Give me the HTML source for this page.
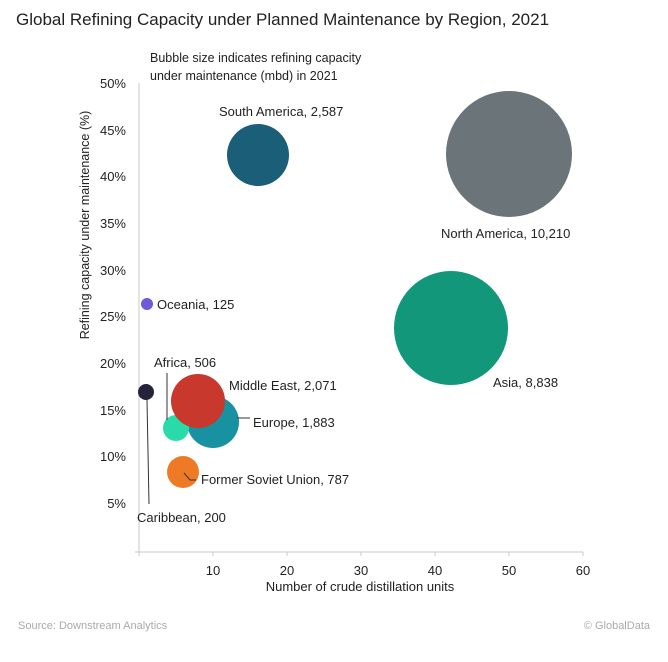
<!DOCTYPE html>
<html><head><meta charset="utf-8"><style>
body{margin:0;background:#fff;}
svg text{font-family:"Liberation Sans",sans-serif;fill:#222;}
</style></head><body>
<svg width="668" height="657" xmlns="http://www.w3.org/2000/svg">
<text x="16" y="25" font-size="17" fill="#111">Global Refining Capacity under Planned Maintenance by Region, 2021</text>
<text x="150" y="62" font-size="12.5">Bubble size indicates refining capacity</text>
<text x="150" y="80" font-size="12.5">under maintenance (mbd) in 2021</text>
<g stroke="#c8c8c8" stroke-width="1">
<line x1="139" y1="83" x2="139" y2="552"/>
<line x1="135" y1="552" x2="583" y2="552"/>
<line x1="139" y1="552" x2="139" y2="556"/><line x1="213" y1="552" x2="213" y2="556"/><line x1="287" y1="552" x2="287" y2="556"/><line x1="361" y1="552" x2="361" y2="556"/><line x1="435" y1="552" x2="435" y2="556"/><line x1="509" y1="552" x2="509" y2="556"/><line x1="583" y1="552" x2="583" y2="556"/>
</g>
<g font-size="13" text-anchor="end">
<text x="126" y="88">50%</text><text x="126" y="135">45%</text><text x="126" y="181">40%</text><text x="126" y="228">35%</text><text x="126" y="275">30%</text><text x="126" y="321">25%</text><text x="126" y="368">20%</text><text x="126" y="415">15%</text><text x="126" y="461">10%</text><text x="126" y="508">5%</text>
</g>
<g font-size="13" text-anchor="middle">
<text x="213" y="575">10</text><text x="287" y="575">20</text><text x="361" y="575">30</text><text x="435" y="575">40</text><text x="509" y="575">50</text><text x="583" y="575">60</text>
<text x="360" y="591">Number of crude distillation units</text>
</g>
<text transform="translate(89,225) rotate(-90)" font-size="12.5" text-anchor="middle">Refining capacity under maintenance (%)</text>
<circle cx="509" cy="154" r="63" fill="#6b7478"/>
<circle cx="451" cy="328" r="57" fill="#13977b"/>
<circle cx="258" cy="155" r="31" fill="#1b5e78"/>
<circle cx="147" cy="304" r="6" fill="#6b5bd6"/>
<circle cx="213" cy="422" r="26" fill="#1892a0"/>
<circle cx="176" cy="428" r="13" fill="#2adbaa"/>
<circle cx="198" cy="401" r="27" fill="#c8382c"/>
<circle cx="183" cy="472" r="16" fill="#ef7a26"/>
<circle cx="146" cy="392" r="8" fill="#25233a"/>
<g stroke="#333" stroke-width="1" fill="none">
<line x1="147" y1="400" x2="149" y2="504"/>
<line x1="167" y1="373" x2="167" y2="420"/>
<polyline points="237,418 250,418"/>
<polyline points="184,473 190,480 196,480"/>
</g>
<g font-size="13">
<text x="219" y="116">South America,  2,587</text>
<text x="441" y="238">North America,  10,210</text>
<text x="157" y="309">Oceania,  125</text>
<text x="493" y="387">Asia,  8,838</text>
<text x="154" y="367">Africa,  506</text>
<text x="229" y="390">Middle East,  2,071</text>
<text x="253" y="427">Europe,  1,883</text>
<text x="201" y="484">Former Soviet Union,  787</text>
<text x="137" y="522">Caribbean,  200</text>
</g>
<text x="18" y="629" font-size="11" fill="#aaa" style="fill:#aaa">Source: Downstream Analytics</text>
<text x="650" y="629" font-size="11" text-anchor="end" style="fill:#aaa">© GlobalData</text>
</svg>
</body></html>
